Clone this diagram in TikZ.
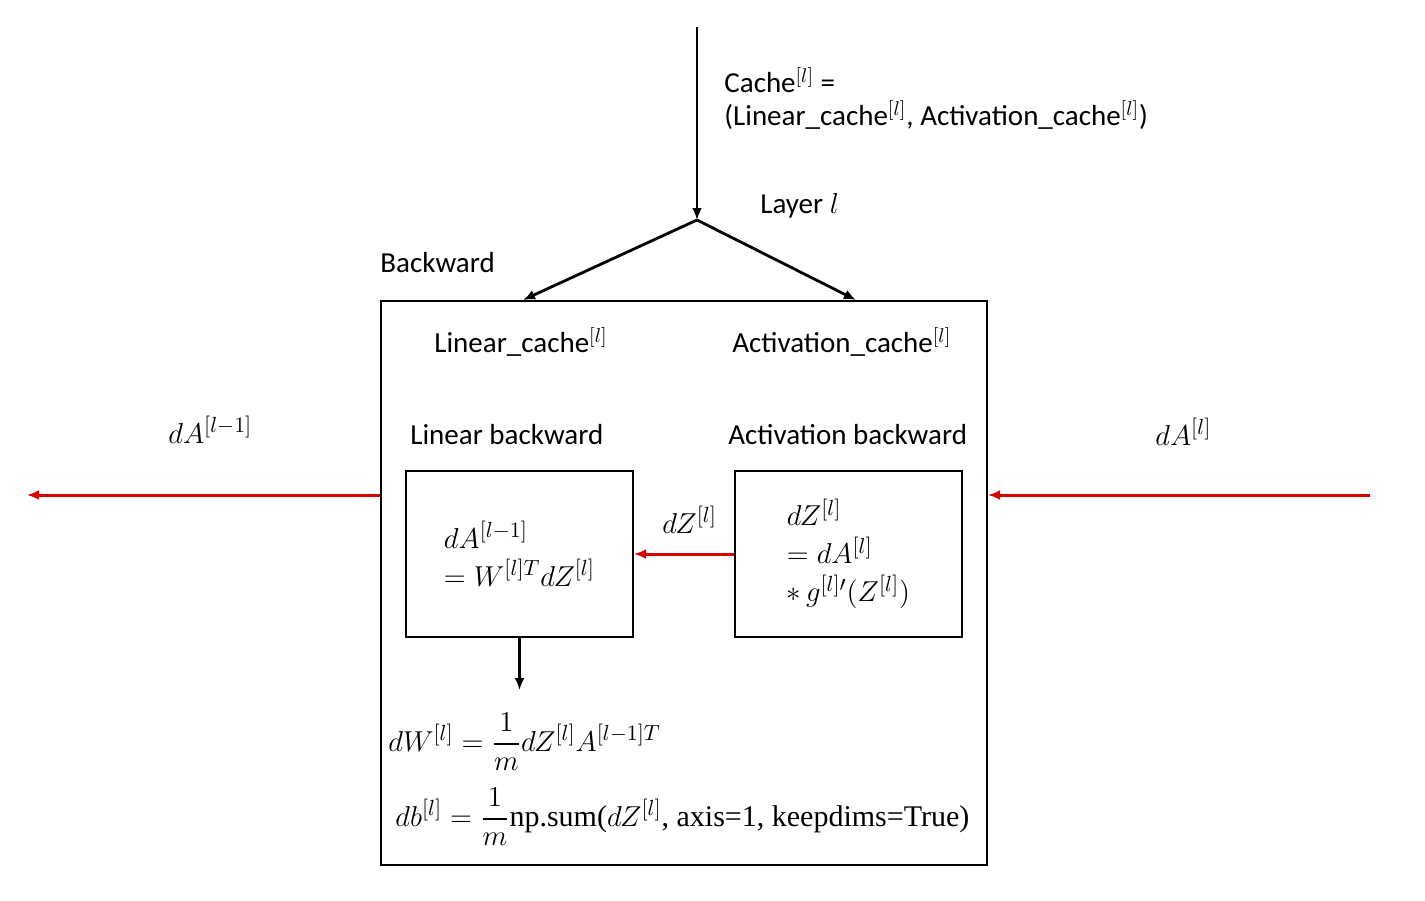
\documentclass[tikz,border=0pt]{standalone}
\usepackage{amsmath}
\usepackage{fontspec}
\setmainfont{Carlito}
\newfontfamily\npfont{Liberation Serif}
\usetikzlibrary{positioning,arrows.meta}

\begin{document}
\begin{tikzpicture}[x=0.5pt,y=-0.5pt,
  font=\fontsize{14.5}{19}\selectfont,
  mth/.style={font=\fontsize{15}{19}\selectfont},
  blk/.style={line width=1.4, -{Latex[length=6pt,width=5pt]}},
  redarr/.style={line width=1.5, color=red!85!black, -{Latex[length=6pt,width=5pt]}},
  inbox/.style={draw, line width=1, minimum width=113.5pt, minimum height=83pt, align=left, anchor=north west, mth},
  lbl/.style={anchor=west, inner sep=0}]
\useasboundingbox (0,0) rectangle (1425,900);
% boxes
\node[draw, line width=1, minimum width=303pt, minimum height=282pt, anchor=north west] (back) at (380,300) {};
\node[inbox] (linbox) at (405,470) {$dA^{[l-1]}$\\$= W^{[l]T}dZ^{[l]}$};
\node[inbox] (actbox) at (734,470) {$dZ^{[l]}$\\$= dA^{[l]}$\\$*\, g^{[l]\prime}(Z^{[l]})$};
% labels
\node[lbl] (cache) at (724,80) {Cache\textsuperscript{$[l]$} =};
\node[lbl] (pair) at (724,115) {(Linear\_cache\textsuperscript{$[l]$}, Activation\_cache\textsuperscript{$[l]$})};
\node[lbl] (layer) at (760,206) {Layer $l$};
\node[lbl] (bwd) at (380,263) {Backward};
\node[lbl] (lcache) at (434,342) {Linear\_cache\textsuperscript{$[l]$}};
\node[lbl] (acache) at (732,342) {Activation\_cache\textsuperscript{$[l]$}};
\node[lbl] (lback) at (410,435) {Linear backward};
\node[lbl] (aback) at (728,435) {Activation backward};
\node[lbl, mth] (dAprev) at (168,430) {$dA^{[l-1]}$};
\node[lbl, mth] (dAcur) at (1155,432) {$dA^{[l]}$};
\node[lbl, mth] (dZ) at (662,520) {$dZ^{[l]}$};
\node[lbl, mth] (dW) at (388,742) {$dW^{[l]} = \dfrac{1}{m}dZ^{[l]}A^{[l-1]T}$};
\node[lbl, mth] (db) at (395,817) {$db^{[l]} = \dfrac{1}{m}\text{\npfont np.sum(}dZ^{[l]}\text{\npfont , axis=1, keepdims=True)}$};
% connectors
\coordinate (top) at (697,27);
\coordinate (split) at (697,220);
\coordinate (tolin) at (523,300);
\coordinate (toact) at (856,300);
\coordinate (outl) at (27,495);
\coordinate (inr) at (1370,495);
\coordinate (dwtop) at (518,690);
\draw[blk] (top) -- (split);
\draw[blk] (split) -- (tolin);
\draw[blk] (split) -- (toact);
\draw[redarr] (inr) -- (inr -| back.east);
\draw[redarr] (outl -| back.west) -- (outl);
\draw[redarr] (actbox.west) -- (linbox.east);
\draw[blk] (linbox.south) -- (linbox.south |- dwtop);
\end{tikzpicture}
\end{document}
